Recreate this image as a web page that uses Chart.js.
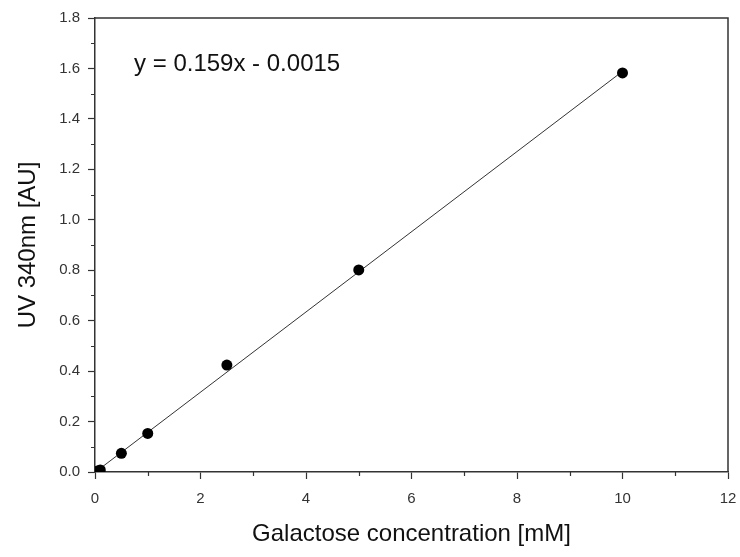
<!DOCTYPE html>
<html>
<head>
<meta charset="utf-8">
<script src="https://cdn.jsdelivr.net/npm/chart.js@4/dist/chart.umd.min.js"></script>
<style>
  html, body { margin: 0; padding: 0; background: #fff; }
  #wrap { width: 740px; height: 557px; }
</style>
</head>
<body>
<div id="wrap"><canvas id="c" width="740" height="557"></canvas></div>
<script>
// Measured standards (galactose concentration, mM) and absorbance
const concentration = [0.05, 0.1, 0.5, 1, 2.5, 5, 10];
const absorbance = [0.004, 0.008, 0.074, 0.153, 0.424, 0.801, 1.582];

// Linear fit endpoints (from y = 0.159x - 0.0015)
const fitX = [0, 10];
const fitY = [-0.0015, 1.5885];
const equationText = 'y = 0.159x - 0.0015';

// Axis settings
const xTicksMajor = [0, 2, 4, 6, 8, 10, 12];
const xTicksMinor = [1, 3, 5, 7, 9, 11];
const yTicksMajor = [0, 0.2, 0.4, 0.6, 0.8, 1.0, 1.2, 1.4, 1.6, 1.8];
const yTicksMinor = [0.1, 0.3, 0.5, 0.7, 0.9, 1.1, 1.3, 1.5, 1.7];
const xTitle = 'Galactose concentration [mM]';
const yTitle = 'UV 340nm [AU]';

const AXIS = '#333333';
const FONT = 'Arial, "Liberation Sans", sans-serif';

const framePlugin = {
  id: 'frame',
  afterDraw(chart) {
    const ctx = chart.ctx;
    const a = chart.chartArea;
    const xs = chart.scales.x, ys = chart.scales.y;
    ctx.save();
    ctx.strokeStyle = AXIS;
    ctx.lineWidth = 1.5;
    ctx.beginPath();
    ctx.moveTo(a.left, a.top);
    ctx.lineTo(a.right, a.top);
    ctx.lineTo(a.right, a.bottom);
    ctx.stroke();
    ctx.lineWidth = 1.2;
    ctx.beginPath();
    xTicksMinor.forEach(v => {
      const px = Math.round(xs.getPixelForValue(v)) + 0.5;
      ctx.moveTo(px, a.bottom);
      ctx.lineTo(px, a.bottom + 4);
    });
    yTicksMinor.forEach(v => {
      const py = Math.round(ys.getPixelForValue(v)) + 0.5;
      ctx.moveTo(a.left, py);
      ctx.lineTo(a.left - 4, py);
    });
    ctx.stroke();
    // equation annotation
    ctx.fillStyle = '#111';
    ctx.font = '24px ' + FONT;
    ctx.textAlign = 'left';
    ctx.textBaseline = 'middle';
    ctx.fillText(equationText, xs.getPixelForValue(0.74), ys.getPixelForValue(1.615));
    ctx.restore();
  }
};

new Chart(document.getElementById('c'), {
  type: 'scatter',
  data: {
    datasets: [
      {
        label: 'fit',
        data: fitX.map((x, i) => ({ x: x, y: fitY[i] })),
        showLine: true,
        borderColor: '#333',
        borderWidth: 1,
        pointRadius: 0,
        order: 2
      },
      {
        label: 'standards',
        data: concentration.map((x, i) => ({ x: x, y: absorbance[i] })),
        pointRadius: 5.5,
        pointBackgroundColor: '#000',
        pointBorderColor: '#000',
        borderWidth: 0,
        order: 1
      }
    ]
  },
  options: {
    responsive: false,
    animation: false,
    devicePixelRatio: 1,
    layout: { padding: { top: 18, right: 12, left: 0, bottom: 0 } },
    plugins: { legend: { display: false }, tooltip: { enabled: false } },
    scales: {
      x: {
        type: 'linear',
        min: 0, max: 12,
        afterBuildTicks(scale) { scale.ticks = xTicksMajor.map(v => ({ value: v })); },
        afterFit(scale) { scale.height = 85; scale.paddingLeft = 0; scale.paddingRight = 0; },
        grid: { drawOnChartArea: false, drawTicks: true, tickLength: 7, color: AXIS, tickWidth: 1.2 },
        border: { display: true, color: AXIS, width: 1.5 },
        ticks: { color: '#333', font: { family: FONT, size: 15 }, padding: 11, maxRotation: 0 },
        title: { display: true, text: xTitle, color: '#111', font: { family: FONT, size: 24 }, padding: { top: 0, bottom: 8 } }
      },
      y: {
        type: 'linear',
        min: 0, max: 1.8,
        afterBuildTicks(scale) { scale.ticks = yTicksMajor.map(v => ({ value: v })); },
        afterFit(scale) { scale.width = 95; scale.paddingTop = 0; scale.paddingBottom = 0; },
        grid: { drawOnChartArea: false, drawTicks: true, tickLength: 7, color: AXIS, tickWidth: 1.2 },
        border: { display: true, color: AXIS, width: 1.5 },
        ticks: { color: '#333', font: { family: FONT, size: 15 }, padding: 8, callback: v => v.toFixed(1) },
        title: { display: true, text: yTitle, color: '#111', font: { family: FONT, size: 24 }, padding: { top: 14, bottom: 0 } }
      }
    }
  },
  plugins: [framePlugin]
});
</script>
</body>
</html>
